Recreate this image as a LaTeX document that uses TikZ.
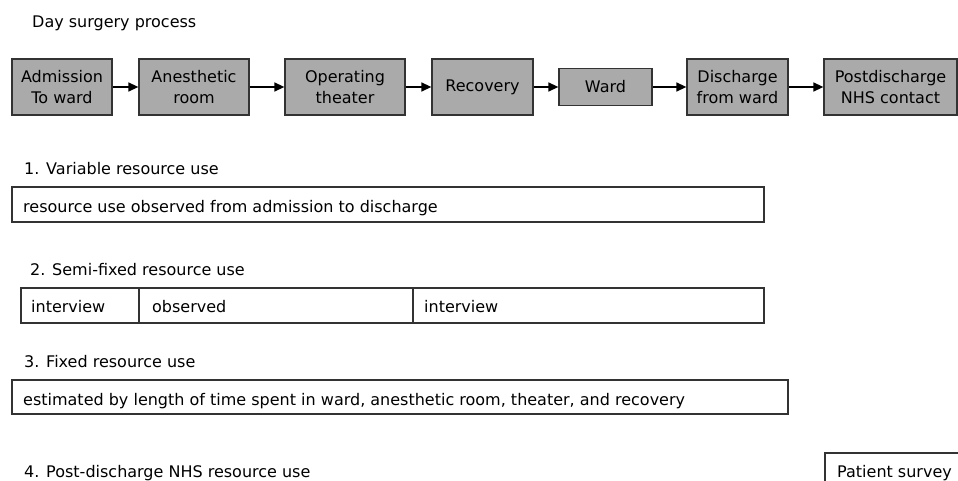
\documentclass[tikz,border=0pt]{standalone}
\usepackage{fontspec}
\setmainfont{DejaVu Sans}
\usetikzlibrary{arrows.meta}
\definecolor{procgray}{HTML}{AAAAAA}
\definecolor{edgegray}{HTML}{333333}
\begin{document}
\begin{tikzpicture}[x=1pt,y=-1pt,
  every node/.style={font=\fontsize{16}{21}\selectfont, text=black},
  proc/.style={draw=edgegray, line width=1.3pt, fill=procgray, inner sep=0pt, align=center, minimum height=56pt},
  plainbox/.style={draw=edgegray, line width=1.2pt, inner sep=0pt, minimum height=35pt},
  lbl/.style={anchor=base west, inner sep=0pt},
  flow/.style={-{Triangle[length=10pt,width=9pt]}, line width=1.4pt, black}]
\path[use as bounding box] (0,0) rectangle (958,481);

% title
\node[lbl] (title) at (32,28) {Day surgery process};

% process chain
\node[proc, minimum width=100pt] (adm) at (62,87) {Admission\\To ward};
\node[proc, minimum width=110pt] (ane) at (194,87) {Anesthetic\\room};
\node[proc, minimum width=120pt] (op) at (345,87) {Operating\\theater};
\node[proc, minimum width=101pt] (rec) at (482.5,87) {Recovery};
\node[proc, minimum width=93pt, minimum height=37pt] (ward) at (605.5,87) {Ward};
\node[proc, minimum width=101pt] (dis) at (737.5,87) {Discharge\\from ward};
\node[proc, minimum width=133pt] (post) at (890.5,87) {Postdischarge\\NHS contact};

\draw[flow] (adm) -- (ane);
\draw[flow] (ane) -- (op);
\draw[flow] (op) -- (rec);
\draw[flow] (rec) -- (ward);
\draw[flow] (ward) -- (dis);
\draw[flow] (dis) -- (post);

% 1. variable
\node[lbl] (h1) at (24,175) {1. Variable resource use};
\node[plainbox, minimum width=752pt] (var) at (388,204.5) {};
\node[lbl] (t1) at (23,212) {resource use observed from admission to discharge};

% 2. semi-fixed
\node[lbl] (h2) at (30,275) {2. Semi-fixed resource use};
\node[plainbox, minimum width=118pt] (s1) at (80,305.5) {};
\node[plainbox, minimum width=274pt] (s2) at (276,305.5) {};
\node[plainbox, minimum width=351pt] (s3) at (588.5,305.5) {};
\node[lbl] (t2a) at (31,312) {interview};
\node[lbl] (t2b) at (152,312) {observed};
\node[lbl] (t2c) at (424,312) {interview};

% 3. fixed
\node[lbl] (h3) at (24,367) {3. Fixed resource use};
\node[plainbox, minimum width=776pt, minimum height=34pt] (fix) at (400,397) {};
\node[lbl] (t3) at (23,405) {estimated by length of time spent in ward, anesthetic room, theater, and recovery};

% 4. post-discharge
\node[lbl] (h4) at (24,477) {4. Post-discharge NHS resource use};
\node[plainbox, minimum width=134pt, minimum height=30pt] (ps) at (892,468) {};
\node[lbl] (t4) at (837,477) {Patient survey};
\end{tikzpicture}
\end{document}
